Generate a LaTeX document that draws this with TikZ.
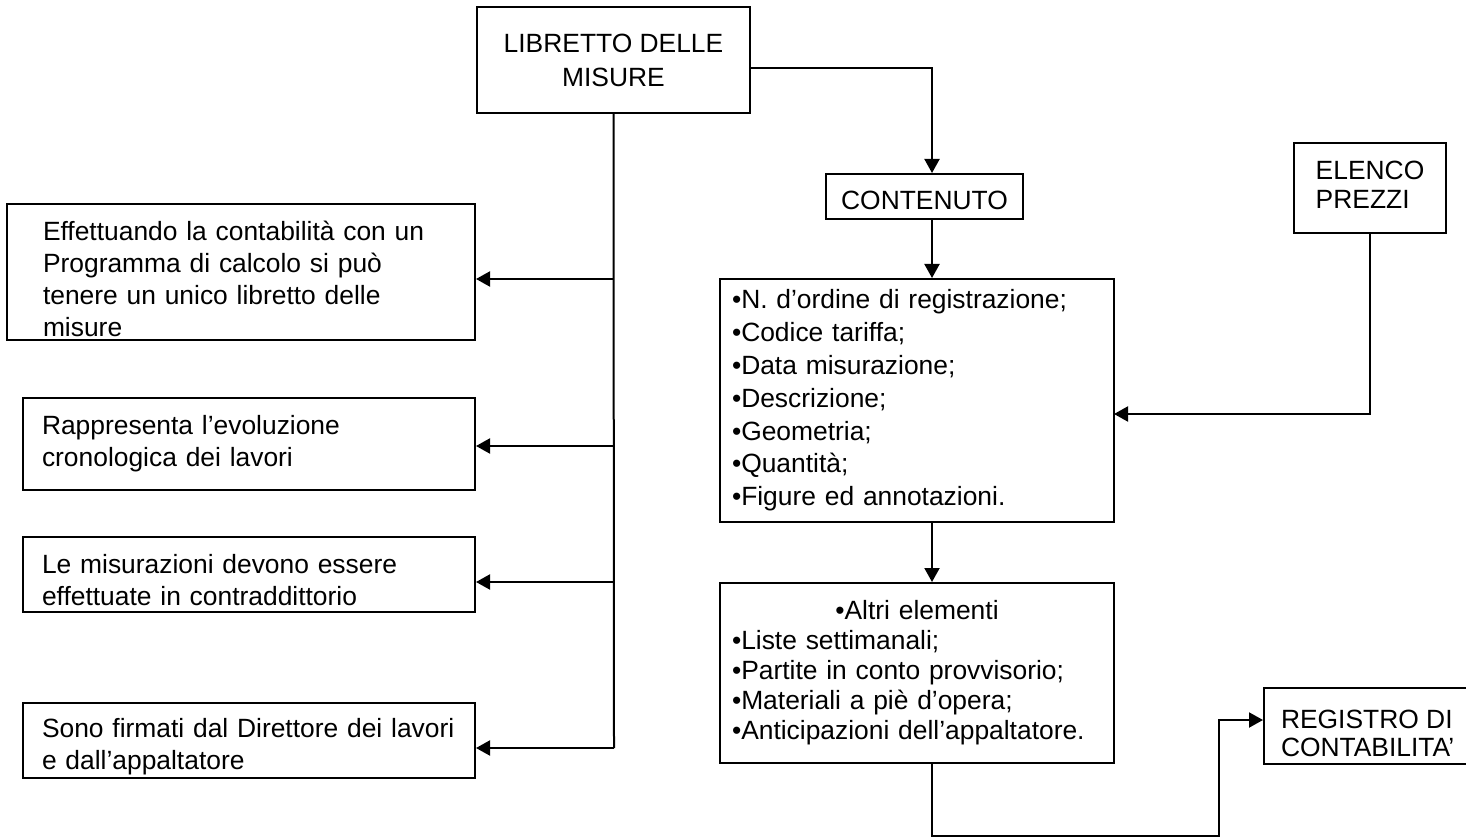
\documentclass[tikz,border=0pt]{standalone}
\usepackage{fontspec}
\setmainfont{Liberation Sans}
\usetikzlibrary{arrows.meta}

\newcommand\topgap[1]{\rule{0pt}{#1}}

\tikzset{
  box/.style={draw, line width=1pt, inner ysep=0pt, font=\fontsize{13.2}{16}\selectfont},
  arr/.style={line width=1pt, -{Triangle[length=7pt,width=7.5pt]}},
  lnk/.style={line width=1pt}
}

\begin{document}
\begin{tikzpicture}[x=0.5pt,y=-0.5pt]
    \useasboundingbox (0,0) rectangle (1466,839);

    \node[box, align=center, minimum width=136.5pt, minimum height=53pt, font=\fontsize{13.2}{17}\selectfont] (lib) at (613.5,60) {LIBRETTO DELLE\\MISURE};
    \node[box, minimum width=98.5pt, minimum height=22.5pt] (cont) at (924.5,196.5) {\topgap{13.5pt}CONTENUTO};

    \node[box, align=left, inner xsep=18pt, text width=198pt, minimum height=68pt] (b1) at (241,272)
      {\topgap{16.5pt}Effettuando la contabilità con un\\Programma di calcolo si può\\tenere un unico libretto delle\\misure};
    \node[box, align=left, inner xsep=9.5pt, text width=207pt, minimum height=46pt] (b2) at (249,444)
      {Rappresenta l’evoluzione\\cronologica dei lavori};
    \node[box, align=left, inner xsep=9.5pt, text width=207pt, minimum height=37.5pt] (b3) at (249,574.5)
      {\topgap{15pt}Le misurazioni devono essere\\effettuate in contraddittorio};
    \node[box, align=left, inner xsep=9.5pt, text width=207pt, minimum height=37.5pt] (b4) at (249,740.5)
      {\topgap{15.5pt}Sono firmati dal Direttore dei lavori\\e dall’appaltatore};

    \node[box, align=left, inner xsep=6pt, text width=185pt, minimum height=121.5pt, font=\fontsize{13.2}{16.4}\selectfont] (lst) at (917,400.5)
      {•N. d’ordine di registrazione;\\•Codice tariffa;\\•Data misurazione;\\•Descrizione;\\•Geometria;\\•Quantità;\\•Figure ed annotazioni.};
    \node[box, align=left, inner xsep=6pt, text width=185pt, minimum height=90pt, font=\fontsize{13.2}{15}\selectfont] (alt) at (917,673)
      {\makebox[\linewidth]{•Altri elementi}\\•Liste settimanali;\\•Partite in conto provvisorio;\\•Materiali a piè d’opera;\\•Anticipazioni dell’appaltatore.};

    \node[box, align=left, minimum width=76pt, minimum height=45pt, font=\fontsize{13.2}{14.5}\selectfont] (el) at (1370,188) {ELENCO\\PREZZI\rule[-3pt]{0pt}{0pt}};
    \node[box, align=left, anchor=west, inner xsep=8.5pt, minimum height=38pt, font=\fontsize{13.2}{14}\selectfont] (reg) at (1263,726) {\topgap{17pt}REGISTRO DI\\CONTABILITA'};

    \coordinate (col) at (932,0);
    \coordinate (t1) at (614,279);
    \coordinate (t2) at (614,446);
    \coordinate (t3) at (614,582);
    \coordinate (t4) at (614,748);
    \coordinate (lout) at (750,68);
    \coordinate (ein) at (1114,414);
    \coordinate (bend) at (1219,836);
    \coordinate (rin) at (1263,720);

    \draw[lnk] (lib.south) -- (t4);
    \draw[arr] (t1) -- (t1 -| b1.east);
    \draw[arr] (t2) -- (t2 -| b2.east);
    \draw[arr] (t3) -- (t3 -| b3.east);
    \draw[arr] (t4) -- (t4 -| b4.east);

    \draw[arr] (lout) -| (cont.north -| col);
    \draw[arr] (cont.south -| col) -- (lst.north -| col);
    \draw[arr] (el.south) |- (ein);
    \draw[arr] (lst.south -| col) -- (alt.north -| col);
    \draw[arr] (alt.south -| col) |- (bend) |- (rin);
\end{tikzpicture}
\end{document}
